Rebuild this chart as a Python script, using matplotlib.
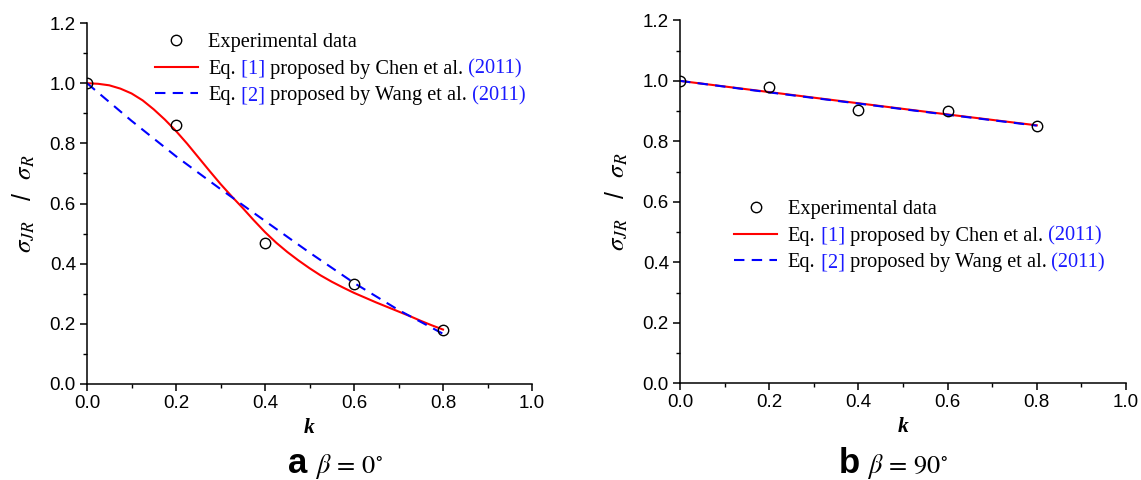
import matplotlib
matplotlib.use("Agg")
import matplotlib.pyplot as plt
from matplotlib.ticker import MultipleLocator
from matplotlib.lines import Line2D

# ---- data -------------------------------------------------------------
k_exp = [0.0, 0.2, 0.4, 0.6, 0.8]

# (a) beta = 0 deg
a_exp = [1.0, 0.86, 0.47, 0.333, 0.178]
k_a_chen = [0.0, 0.025, 0.05, 0.075, 0.1, 0.125, 0.15, 0.175, 0.2, 0.225,
            0.25, 0.275, 0.3, 0.325, 0.35, 0.375, 0.4, 0.425, 0.45, 0.475,
            0.5, 0.525, 0.55, 0.575, 0.6, 0.625, 0.65, 0.675, 0.7, 0.725,
            0.75, 0.775, 0.8]
a_chen = [1.0, 0.998, 0.993, 0.982, 0.966, 0.943, 0.913, 0.879, 0.841, 0.799,
          0.754, 0.709, 0.665, 0.624, 0.585, 0.544, 0.505, 0.470, 0.439, 0.411,
          0.385, 0.361, 0.340, 0.321, 0.303, 0.287, 0.271, 0.256, 0.241, 0.226,
          0.210, 0.195, 0.181]
k_a_wang = [0.0, 0.1, 0.2, 0.3, 0.4, 0.5, 0.6, 0.7, 0.8]
a_wang = [1.0, 0.875, 0.757, 0.648, 0.542, 0.437, 0.336, 0.246, 0.167]

# (b) beta = 90 deg
b_exp = [1.0, 0.979, 0.903, 0.900, 0.852]
k_b_fit = [0.0, 0.2, 0.4, 0.6, 0.8]
b_chen = [1.0, 0.963, 0.926, 0.889, 0.853]
b_wang = [1.0, 0.962, 0.925, 0.888, 0.852]

x_ticks = [0.0, 0.2, 0.4, 0.6, 0.8, 1.0]
y_ticks = [0.0, 0.2, 0.4, 0.6, 0.8, 1.0, 1.2]

# ---- style ------------------------------------------------------------
plt.rcParams["mathtext.fontset"] = "stix"
plt.rcParams["font.family"] = ["Liberation Sans", "DejaVu Sans"]

SERIF = "Liberation Serif"
BLUE_TXT = "#1a1aff"
LEG_SIZE = 14.7

fig = plt.figure(figsize=(11.41, 4.8), dpi=100)
ax_a = fig.add_axes([87 / 1141, 0.200, 445 / 1141, 0.752])
ax_b = fig.add_axes([680 / 1141, 0.2015, 446 / 1141, 0.756])


def style_axes(ax):
    ax.set_xlim(0.0, 1.0)
    ax.set_ylim(0.0, 1.2)
    ax.set_xticks(x_ticks)
    ax.set_yticks(y_ticks)
    ax.set_xticklabels([f"{v:.1f}" for v in x_ticks])
    ax.set_yticklabels([f"{v:.1f}" for v in y_ticks])
    ax.xaxis.set_minor_locator(MultipleLocator(0.1))
    ax.yaxis.set_minor_locator(MultipleLocator(0.1))
    for side in ("top", "right"):
        ax.spines[side].set_visible(False)
    for side in ("left", "bottom"):
        ax.spines[side].set_linewidth(1.1)
    ax.tick_params(which="major", direction="out", length=5, width=1.1,
                   labelsize=13.5, pad=3)
    ax.tick_params(which="minor", direction="out", length=3, width=1.0)
    ax.set_xlabel("k", fontfamily=SERIF, fontweight="bold", fontstyle="italic",
                  fontsize=15.5, labelpad=4)
    ax.set_ylabel(r"$\sigma_{JR}$   /  $\sigma_{R}$", fontsize=18, labelpad=9)


def draw_panel(ax, exp_vals, k_chen, chen, k_wang, wang):
    ax.plot(k_chen, chen, color="#ff0000", lw=1.5, zorder=2)
    ax.plot(k_wang, wang, color="#0000ff", lw=1.5, ls=(0, (5, 3.5)), zorder=2)
    ax.plot(k_exp, exp_vals, ls="none", marker="o", ms=7.5, mfc="none",
            mec="black", mew=1.0, zorder=3)


def add_legend(ax, anchor):
    handles = [
        Line2D([], [], ls="none", marker="o", ms=7.5, mfc="none", mec="black", mew=1.0),
        Line2D([], [], color="#ff0000", lw=1.5),
        Line2D([], [], color="#0000ff", lw=1.5, ls=(0, (5, 3.5))),
    ]
    labels = ["Experimental data", "Eq.", "Eq."]
    leg = ax.legend(handles, labels, loc="upper left", bbox_to_anchor=anchor,
                    frameon=False, prop={"family": SERIF, "size": LEG_SIZE},
                    handlelength=2.1, handletextpad=0.52, labelspacing=0.35,
                    borderpad=0, borderaxespad=0)
    texts = leg.get_texts()
    tails = [
        [(" [1]", BLUE_TXT), (" proposed by Chen et al.", "black"), (" (2011)", BLUE_TXT)],
        [(" [2]", BLUE_TXT), (" proposed by Wang et al.", "black"), (" (2011)", BLUE_TXT)],
    ]
    for base, pieces in zip(texts[1:], tails):
        prev = base
        for s, c in pieces:
            prev = ax.annotate(s, xy=(1, 0), xycoords=prev, va="bottom", ha="left",
                               color=c, fontfamily=SERIF, fontsize=LEG_SIZE, zorder=6)


style_axes(ax_a)
style_axes(ax_b)
draw_panel(ax_a, a_exp, k_a_chen, a_chen, k_a_wang, a_wang)
draw_panel(ax_b, b_exp, k_b_fit, b_chen, k_b_fit, b_wang)
add_legend(ax_a, (0.1526, 0.972))
add_legend(ax_b, (0.122, 0.505))

# panel captions
fig.text(288 / 1141, 0.0146, "a", fontsize=25, fontweight="bold", va="baseline")
fig.text(315 / 1141, 0.0146, r"$\beta\,=\,0^{\circ}$", fontsize=19, va="baseline")
fig.text(838.6 / 1141, 0.0146, "b", fontsize=25, fontweight="bold", va="baseline")
fig.text(866.6 / 1141, 0.0146, r"$\beta\,=\,90^{\circ}$", fontsize=19, va="baseline")

fig.canvas.draw()
fig.savefig("out.png", dpi=100)
